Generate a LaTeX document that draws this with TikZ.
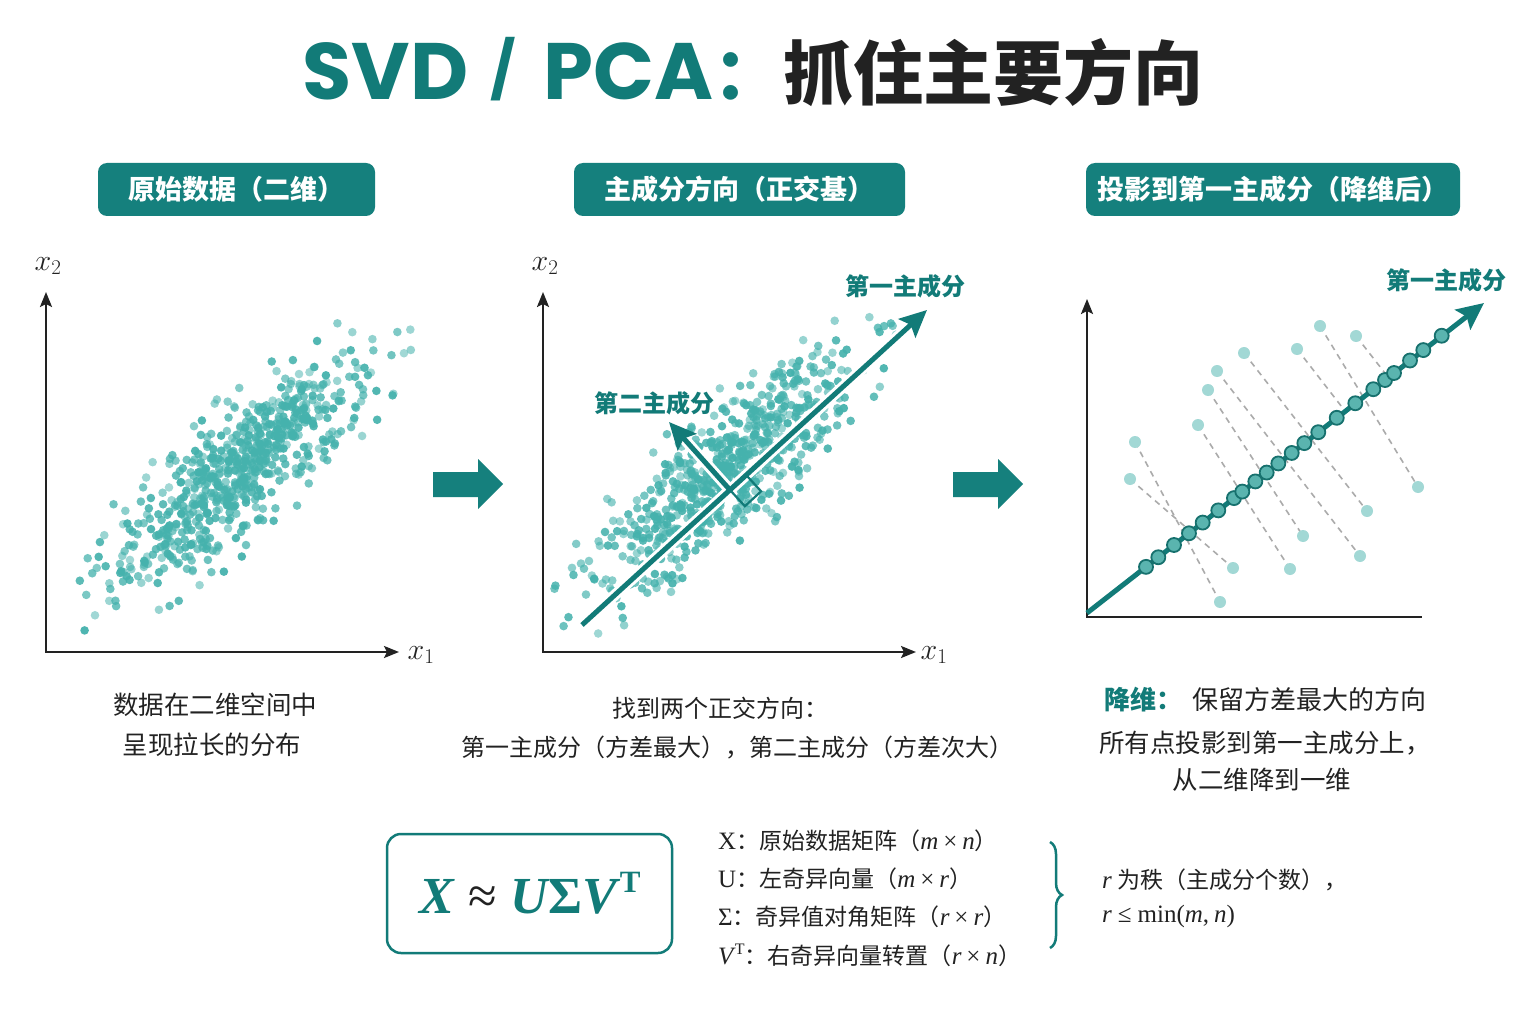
\RequirePackage{fix-cm}
\documentclass[tikz,border=0pt]{standalone}
\usepackage{amsmath}
\usepackage[no-math]{fontspec}
\newfontfamily\cjk{Noto Sans CJK SC}
\newfontfamily\pop{Poppins}
\newfontfamily\lser{Liberation Serif}
\usetikzlibrary{arrows.meta,decorations.pathreplacing}
\definecolor{tealT}{HTML}{127B78}
\definecolor{tealG}{HTML}{15807D}
\definecolor{dotc}{HTML}{45B2AD}
\definecolor{lightdot}{HTML}{A2D8D5}
\definecolor{projfill}{HTML}{5AB4AF}
\definecolor{projdraw}{HTML}{17716E}
\definecolor{textc}{HTML}{222222}
\definecolor{dashc}{HTML}{ABABAB}
\newcommand\fsz[2]{\fontsize{#1}{#2}\selectfont}
\newcommand\vi[1]{{\lser\itshape\fsz{25}{28}#1}}
\newcommand\vu[1]{{\lser\fsz{25}{28}#1}}
\newcommand\tms{\hspace{5pt}\vu{×}\hspace{5pt}}
\newcommand\dotcloud[6]{%
  \foreach \i in {1,...,#6}{%
    \pgfmathsetmacro\ua{0.001+0.998*rnd}%
    \pgfmathsetmacro\ub{360*rnd}%
    \pgfmathsetmacro\rr{min(sqrt(-2*ln(\ua)),2.75)}%
    \pgfmathsetmacro\ga{#4*\rr*cos(\ub)}%
    \pgfmathsetmacro\gb{#5*\rr*sin(\ub)}%
    \pgfmathsetmacro\px{#1+\ga*cos(#3)+\gb*sin(#3)}%
    \pgfmathsetmacro\py{#2-\ga*sin(#3)+\gb*cos(#3)}%
    \pgfmathsetmacro\op{0.5+0.45*rnd}%
    \fill[dotc, opacity=\op] (\px,\py) circle[radius=4.3pt];
  }}
\begin{document}
\begin{tikzpicture}[x=1pt,y=-1pt,
  tag/.style={fill=tealG, rounded corners=9pt, text=white, minimum height=53pt,
    font=\cjk\bfseries\fsz{27}{32}, inner sep=0pt},
  captext/.style={text=textc, font=\cjk\fsz{24}{28}, inner sep=0pt},
  axis/.style={draw=textc, line width=2.3pt},
  axlab/.style={text=textc, font=\fsz{30}{34}, inner sep=0pt},
  pclab/.style={text=tealT, font=\cjk\bfseries\fsz{24}{28}, inner sep=0pt},
  pcline/.style={draw=tealT, line width=5pt, -{Stealth[length=27pt,width=25pt,inset=5pt]}},
  halo/.style={draw=white, line width=11pt},
  bigarrow/.style={fill=tealG},
  lightpt/.style={fill=lightdot},
  projpt/.style={fill=projfill, draw=projdraw, line width=1.8pt},
  dashl/.style={draw=dashc, line width=1.6pt, dash pattern=on 6pt off 5pt},
  defl/.style={text=textc, font=\cjk\fsz{23}{28}, inner sep=0pt, anchor=west},
  fbox/.style={draw=tealT, line width=2.5pt, rounded corners=14pt},
  ftext/.style={inner sep=0pt, text=tealT, font=\lser\fsz{52}{58}},
]
\useasboundingbox (0,0) rectangle (1536,1024);
\fill[white] (0,0) rectangle (1536,1024);
\pgfmathsetseed{17}

% ---------- title ----------
\node[inner sep=0pt] (title) at (753,72) {{\pop\bfseries\fontsize{80}{90}\selectfont\color{tealT}SVD\hspace{22pt}{\fontsize{56}{60}\selectfont\raisebox{9pt}{/}}\hspace{28pt}PCA}{\cjk\bfseries\fontsize{70}{80}\selectfont\color{tealT}：\color{textc}抓住主要方向}};

% ---------- tags ----------
\node[tag, minimum width=277pt] (t1) at (236.5,189.5) {原始数据（二维）};
\node[tag, minimum width=331pt] (t2) at (739.5,189.5) {主成分方向（正交基）};
\node[tag, minimum width=374pt] (t3) at (1273,189.5) {投影到第一主成分（降维后）};

% ---------- panel 1 ----------
\dotcloud{238}{472}{42}{82}{25}{680}
\coordinate (o1) at (46,652);
\coordinate (ya) at (46,292);
\coordinate (xa) at (399,652);
\draw[axis, {Stealth[length=15pt,width=12pt,inset=3pt]}-{Stealth[length=15pt,width=12pt,inset=3pt]}] (ya) -- (o1) -- (xa);
\node[axlab] (lx2a) at (48,266) {$x_2$};
\node[axlab] (lx1a) at (421,655) {$x_1$};

% ---------- arrow 1 ----------
\fill[bigarrow] (433,472) -- (478,472) -- (478,459) -- (503,484) -- (478,509) -- (478,497) -- (433,497) -- cycle;

% ---------- panel 2 ----------
\dotcloud{724}{475}{42.5}{82}{25}{680}
\coordinate (o2) at (543,652);
\coordinate (yb) at (543,292);
\coordinate (xb) at (916,652);
\draw[axis, {Stealth[length=15pt,width=12pt,inset=3pt]}-{Stealth[length=15pt,width=12pt,inset=3pt]}] (yb) -- (o2) -- (xb);
\node[axlab] (lx2b) at (545,266) {$x_2$};
\node[axlab] (lx1b) at (934,655) {$x_1$};
\coordinate (pa) at (582,625);
\coordinate (pb) at (927,310);
\coordinate (pm) at (730,490);
\coordinate (pc) at (669,422);
\draw[halo, shorten >=22pt] (pa) -- (pb);
\draw[halo, shorten >=22pt] (pm) -- (pc);
\draw[pcline] (pa) -- (pb);
\draw[pcline] (pm) -- (pc);
\coordinate (ra) at (746.2,475.1);
\coordinate (rb) at (761.1,491.3);
\coordinate (rc) at (744.9,506.2);
\draw[tealT, line width=2.2pt, line join=miter] (ra) -- (rb) -- (rc) -- (pm);
\node[pclab] (pc1lab) at (905,286) {第一主成分};
\node[pclab] (pc2lab) at (654,403) {第二主成分};

% ---------- arrow 2 ----------
\fill[bigarrow] (953,472) -- (998,472) -- (998,459) -- (1023,484) -- (998,509) -- (998,497) -- (953,497) -- cycle;

% ---------- panel 3 ----------
\coordinate (o3) at (1087,617);
\coordinate (yc) at (1087,299);
\coordinate (xc) at (1422,617);
\draw[axis, {Stealth[length=15pt,width=12pt,inset=3pt]}-] (yc) -- (o3) -- (xc);
\coordinate (u1) at (1135,442); \coordinate (u2) at (1130,479);
\coordinate (u3) at (1198,425); \coordinate (u4) at (1208,390);
\coordinate (u5) at (1217,371); \coordinate (u6) at (1244,353);
\coordinate (u7) at (1297,349); \coordinate (u8) at (1320,326);
\coordinate (u9) at (1356,336);
\coordinate (l1) at (1220,602); \coordinate (l2) at (1233,568);
\coordinate (l3) at (1290,569); \coordinate (l4) at (1303,536);
\coordinate (l5) at (1360,556); \coordinate (l6) at (1367,511);
\coordinate (l7) at (1418,487);
\coordinate (f7) at (1345,411); \coordinate (f9) at (1388,377);
\draw[dashl] (u1) -- (l1);
\draw[dashl] (u2) -- (l2);
\draw[dashl] (u3) -- (l3);
\draw[dashl] (u4) -- (l4);
\draw[dashl] (u5) -- (l5);
\draw[dashl] (u6) -- (l6);
\draw[dashl] (u8) -- (l7);
\draw[dashl] (u7) -- (f7);
\draw[dashl] (u9) -- (f9);
\coordinate (qa) at (1087,613);
\coordinate (qb) at (1484,303);
\draw[pcline] (qa) -- (qb);
\foreach \t in {74.9,90.5,110.4,129.4,146.8,166.6,186.5,197.1,213.6,228,242.8,259.8,275.8,293.5,316.9,340.5,363.3,378.2,389.6,409.9,426.8,450.1}{
  \draw[projpt] ({1087+0.788*\t},{613-0.616*\t}) circle[radius=7pt];
}
\foreach \p in {u1,u2,u3,u4,u5,u6,u7,u8,u9,l1,l2,l3,l4,l5,l6,l7}{
  \fill[lightpt] (\p) circle[radius=6pt];
}
\node[pclab] (pc1lab3) at (1446,280) {第一主成分};

% ---------- captions ----------
\node[captext, font=\cjk\fsz{25.5}{30}] (cap1a) at (215,705) {数据在二维空间中};
\node[captext, font=\cjk\fsz{25.5}{30}] (cap1b) at (212,745) {呈现拉长的分布};
\node[captext] (cap2a) at (720,708) {找到两个正交方向：};
\node[captext] (cap2b) at (737,748) {第一主成分（方差最大），第二主成分（方差次大）};
\node[captext, font=\cjk\fsz{26}{30}] (cap3a) at (1265,700) {{\color{tealT}\bfseries 降维：}\hspace{10pt}保留方差最大的方向};
\node[captext, font=\cjk\fsz{25.5}{30}] (cap3b) at (1265,743) {所有点投影到第一主成分上，};
\node[captext, font=\cjk\fsz{25.5}{30}] (cap3c) at (1262,780) {从二维降到一维};

% ---------- formula ----------
\node[fbox, minimum width=285pt, minimum height=119pt, inner sep=0pt] (fb) at (529.5,893.5) {};
\node[ftext] (formula) at (530,893) {{\bfseries\itshape X}\hspace{14pt}{\color{textc}≈}\hspace{14pt}{\bfseries\itshape U}{\bfseries Σ}{\bfseries\itshape V}\hspace{3pt}\raisebox{21pt}{\bfseries\fsz{31}{31}T}};

\node[defl] (d1) at (718,841) {\vu{X}：原始数据矩阵（\vi{m}\tms\vi{n}）};
\node[defl] (d2) at (718,879) {\vu{U}：左奇异向量（\vi{m}\tms\vi{r}）};
\node[defl] (d3) at (718,917) {\vu{Σ}：奇异值对角矩阵（\vi{r}\tms\vi{r}）};
\node[defl] (d4) at (718,955) {\vi{V}\hspace{1.5pt}\raisebox{10pt}{\lser\fsz{16}{16}T}：右奇异向量转置（\vi{r}\tms\vi{n}）};

\coordinate (ba) at (1050,842);
\coordinate (bb) at (1050,948);
\draw[tealT, line width=2.5pt, decorate, decoration={brace, amplitude=12pt}] (ba) -- (bb);
\node[defl] (r1) at (1102,880) {\vi{r} 为秩（主成分个数），};
\node[defl] (r2) at (1102,916) {\vi{r}\hspace{6pt}\vu{≤}\hspace{6pt}\vu{min(}\vi{m}\vu{,}\hspace{5pt}\vi{n}\vu{)}};
\end{tikzpicture}
\end{document}
